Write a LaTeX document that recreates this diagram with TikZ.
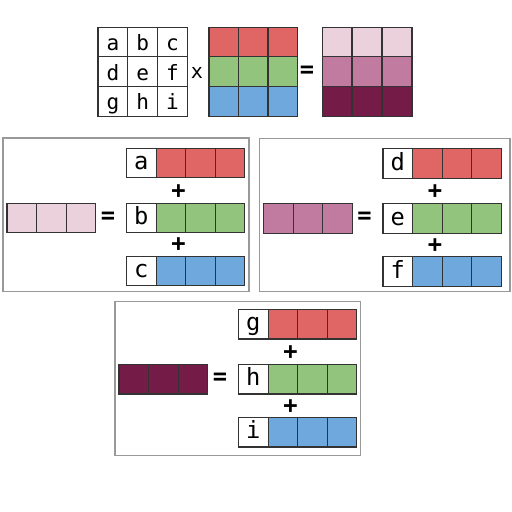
\documentclass[tikz,border=0pt]{standalone}
\usepackage{fontspec}
\setmonofont{DejaVu Sans Mono}
\definecolor{rowred}{HTML}{E06666}
\definecolor{rowgreen}{HTML}{93C47D}
\definecolor{rowblue}{HTML}{6FA8DC}
\definecolor{prodlight}{HTML}{EAD1DC}
\definecolor{prodmid}{HTML}{C27BA0}
\definecolor{proddark}{HTML}{741B47}

\begin{document}
\begin{tikzpicture}[x=0.02cm, y=-0.02cm, font=\ttfamily, cell/.style={rectangle, draw=black!80, line width=0.6pt, anchor=north west, inner sep=0pt, minimum width=0.596cm, minimum height=0.596cm, text height=0.95em, text depth=0pt, font=\ttfamily\fontsize{12}{14}\selectfont}, rowcell/.style={cell, minimum width=0.592cm, minimum height=0.585cm, text height=0.8em, text depth=0.05em, font=\ttfamily\fontsize{13.5}{16}\selectfont}, sym/.style={inner sep=0pt, font=\ttfamily\bfseries\fontsize{13.5}{16}\selectfont}, panel/.style={draw=black!40, line width=0.6pt}]
\useasboundingbox (0,0) rectangle (512,512);

% top row: coefficients x colour rows = product rows
\foreach \row/\a/\b/\c in {0/a/b/c, 1/d/e/f, 2/g/h/i}
  \foreach \col/\ltr in {0/\a, 1/\b, 2/\c}
    \node[cell] (L\row\col) at ({97.5+29.8*\col},{26.5+29.8*\row}) {\ltr};
\foreach \row/\clr in {0/rowred, 1/rowgreen, 2/rowblue}
  \foreach \col in {0,1,2}
    \node[cell, fill=\clr] (M\row\col) at ({208.5+29.5*\col},{26.5+29.8*\row}) {};
\foreach \row/\clr in {0/prodlight, 1/prodmid, 2/proddark}
  \foreach \col in {0,1,2}
    \node[cell, fill=\clr] (P\row\col) at ({321.7+30*\col},{26.5+29.8*\row}) {};
\node[sym, font=\ttfamily\fontsize{11.5}{13}\selectfont] (times) at (197,73) {x};
\node[sym] (eqtop) at (307,72) {=};

% one panel per product row
\foreach \n/\L/\T/\W/\D/\clr/\a/\b/\c in {1/3/138/246/0/prodlight/a/b/c, 2/259.5/138.3/250.5/0/prodmid/d/e/f, 3/115/301.7/245.7/-2.5/proddark/g/h/i} {
  \draw[panel] (\L,\T) rectangle ++(\W,153.5);
  \foreach \col in {0,1,2}
    \node[rowcell, fill=\clr] (S\n\col) at ({\L+3.5+29.6*\col},{\T+\D+65}) {};
  \node[sym] (eq\n) at ({\L+105},{\T+\D+79.5}) {=};
  \foreach \row/\ltr/\rc/\dy in {0/\a/rowred/10, 1/\b/rowgreen/65, 2/\c/rowblue/118} {
    \node[rowcell] (K\n\row) at ({\L+123},{\T+\D+\dy}) {\ltr};
    \foreach \col in {1,2,3}
      \node[rowcell, fill=\rc] (C\n\row\col) at ({\L+123+29.6*\col},{\T+\D+\dy}) {};
  }
  \node[sym] (plusA\n) at ({\L+175.5},{\T+\D+53.5}) {+};
  \node[sym] (plusB\n) at ({\L+175.5},{\T+\D+107}) {+};
}
\end{tikzpicture}
\end{document}
